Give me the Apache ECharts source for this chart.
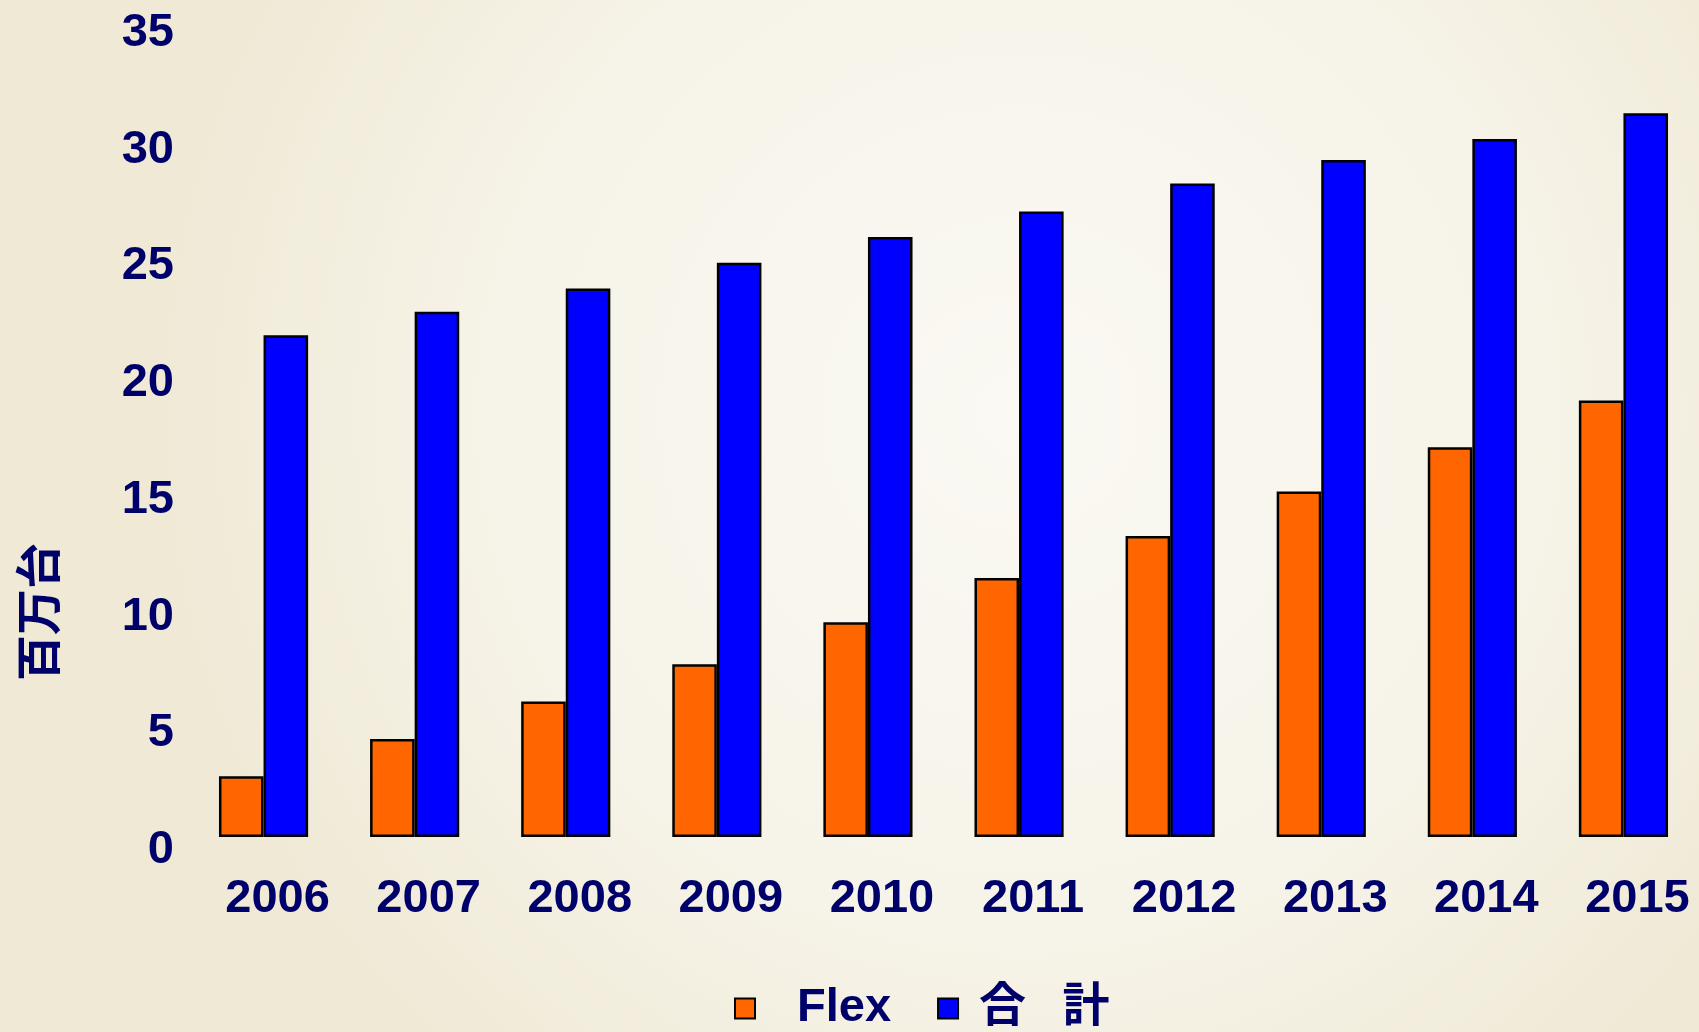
<!DOCTYPE html>
<html>
<head>
<meta charset="utf-8">
<script src="https://cdn.jsdelivr.net/npm/echarts@6/dist/echarts.min.js"></script>
<style>
html,body{margin:0;padding:0;width:1699px;height:1032px;overflow:hidden;}
#chart{width:1699px;height:1032px;}
</style>
</head>
<body>
<div id="chart"></div>
<script>
const categories = ['2006','2007','2008','2009','2010','2011','2012','2013','2014','2015'];
const flexValues = [2.6, 4.2, 5.8, 7.4, 9.2, 11.1, 12.9, 14.8, 16.7, 18.7];
const totalValues = [21.5, 22.5, 23.5, 24.6, 25.7, 26.8, 28.0, 29.0, 29.9, 31.0];
const seriesNames = ['Flex', '合\u2002 計'];
const yAxisName = '百万台';

const textColor = '#00006a';
const fontLatin = '"Liberation Sans", Arial, sans-serif';
const fontCJK = '"Liberation Sans", "Noto Sans CJK JP", sans-serif';

const chart = echarts.init(document.getElementById('chart'));
chart.setOption({
  animation: false,
  backgroundColor: {
    type: 'radial', x: 0.6, y: 0.4, r: 0.85,
    colorStops: [
      {offset: 0, color: '#faf9f3'},
      {offset: 0.6, color: '#f6f3e8'},
      {offset: 1, color: '#efe9d5'}
    ]
  },
  grid: { left: 188, right: -10, top: 20, bottom: 195 },
  legend: {
    data: [
      { name: seriesNames[0], textStyle: { padding: [0, 0, 0, 37] } },
      { name: seriesNames[1], textStyle: { padding: [0, 0, 0, 16] } }
    ],
    icon: 'rect',
    left: 729,
    top: 980,
    itemWidth: 20,
    itemHeight: 20,
    itemGap: 46,
    textStyle: {
      color: textColor, fontSize: 47, fontWeight: 'bold', fontFamily: fontCJK,
      lineHeight: 47
    }
  },
  graphic: [{
    type: 'text',
    x: 38, y: 612,
    rotation: Math.PI / 2,
    style: {
      text: yAxisName,
      fill: textColor,
      font: 'bold 46px "Noto Sans CJK JP", sans-serif',
      textAlign: 'center',
      textVerticalAlign: 'middle'
    }
  }],
  xAxis: {
    type: 'category',
    data: categories,
    axisLine: { show: false },
    axisTick: { show: false },
    axisLabel: {
      margin: 39,
      formatter: '{a|{value}}',
      rich: {
        a: {
          color: textColor, fontSize: 47, fontWeight: 'bold', fontFamily: fontLatin,
          padding: [0, 0, 0, 28]
        }
      }
    }
  },
  yAxis: {
    type: 'value',
    min: 0, max: 35, interval: 5,
    splitLine: { show: false },
    axisLine: { show: false },
    axisTick: { show: false },
    axisLabel: {
      margin: 14,
      verticalAlign: 'top',
      lineHeight: 26,
      color: textColor, fontSize: 47, fontWeight: 'bold', fontFamily: fontLatin
    }
  },
  series: [
    {
      name: seriesNames[0],
      type: 'bar',
      data: flexValues,
      barGap: '0%',
      barCategoryGap: '41%',
      itemStyle: { color: '#ff6600', borderColor: '#000000', borderWidth: 2.5 }
    },
    {
      name: seriesNames[1],
      type: 'bar',
      data: totalValues,
      barGap: '0%',
      barCategoryGap: '41%',
      itemStyle: { color: '#0000ff', borderColor: '#000000', borderWidth: 2.5 }
    }
  ]
});
</script>
</body>
</html>
